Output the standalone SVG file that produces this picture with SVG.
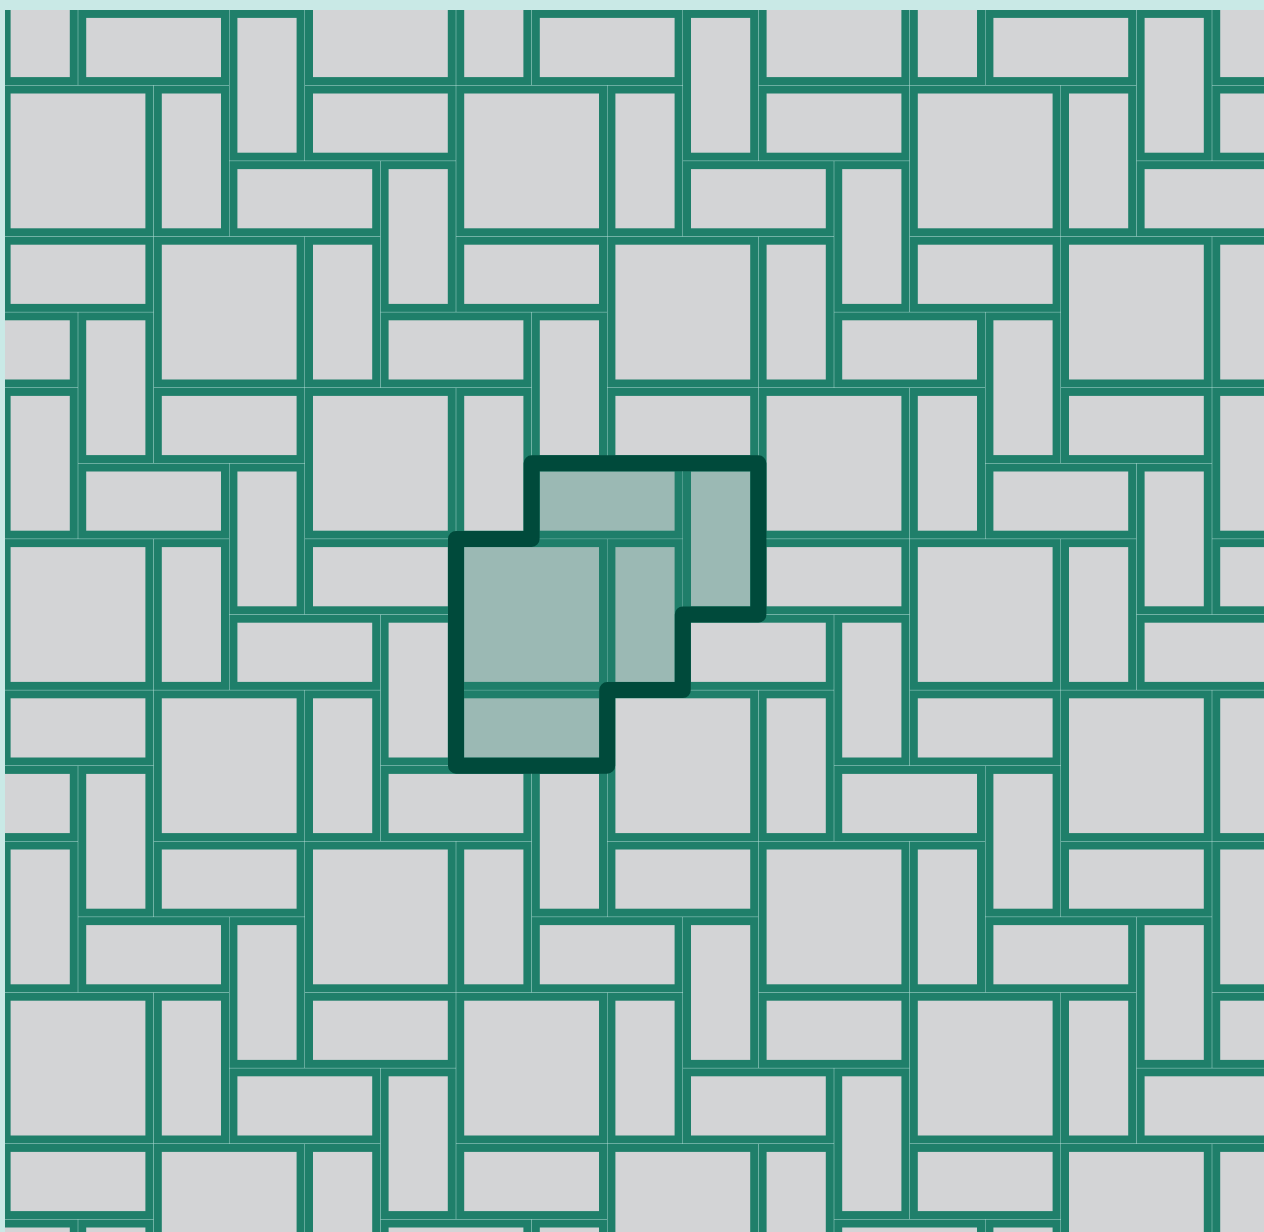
<svg xmlns="http://www.w3.org/2000/svg" xmlns:xlink="http://www.w3.org/1999/xlink" width="1264" height="1232" viewBox="0 0 1264 1232">
  <style>
    .tile { fill: #d3d4d6; stroke: #1f7f6a; stroke-width: 8; }
    .domain { fill: #1f7f6a; fill-opacity: 0.31; stroke: #004a3b; stroke-width: 16; stroke-linejoin: round; }
  </style>
  <defs>
    <clipPath id="area">
      <rect x="5" y="10" width="1259" height="1222"/>
    </clipPath>
    <g id="cell">
      <rect class="tile" x="4.2" y="79.8" width="142.8" height="142.8"/>
      <rect class="tile" x="155.4" y="79.8" width="67.2" height="142.8"/>
      <rect class="tile" x="231" y="4.2" width="67.2" height="142.8"/>
      <rect class="tile" x="79.8" y="4.2" width="142.8" height="67.2"/>
      <rect class="tile" x="306.6" y="79.8" width="142.8" height="67.2"/>
    </g>
  </defs>
  <rect x="0" y="0" width="1264" height="1232" fill="#c9e9e6"/>
  <g id="tiling" clip-path="url(#area)">
    <use xlink:href="#cell" transform="translate(-148.8,-141.5)"/>
    <use xlink:href="#cell" transform="translate(304.8,-141.5)"/>
    <use xlink:href="#cell" transform="translate(758.4,-141.5)"/>
    <use xlink:href="#cell" transform="translate(1212,-141.5)"/>

    <use xlink:href="#cell" transform="translate(2.4,9.7)"/>
    <use xlink:href="#cell" transform="translate(456,9.7)"/>
    <use xlink:href="#cell" transform="translate(909.6,9.7)"/>

    <use xlink:href="#cell" transform="translate(-300,160.9)"/>
    <use xlink:href="#cell" transform="translate(153.6,160.9)"/>
    <use xlink:href="#cell" transform="translate(607.2,160.9)"/>
    <use xlink:href="#cell" transform="translate(1060.8,160.9)"/>

    <use xlink:href="#cell" transform="translate(-148.8,312.1)"/>
    <use xlink:href="#cell" transform="translate(304.8,312.1)"/>
    <use xlink:href="#cell" transform="translate(758.4,312.1)"/>
    <use xlink:href="#cell" transform="translate(1212,312.1)"/>

    <use xlink:href="#cell" transform="translate(2.4,463.3)"/>
    <use xlink:href="#cell" transform="translate(456,463.3)"/>
    <use xlink:href="#cell" transform="translate(909.6,463.3)"/>

    <use xlink:href="#cell" transform="translate(-300,614.5)"/>
    <use xlink:href="#cell" transform="translate(153.6,614.5)"/>
    <use xlink:href="#cell" transform="translate(607.2,614.5)"/>
    <use xlink:href="#cell" transform="translate(1060.8,614.5)"/>

    <use xlink:href="#cell" transform="translate(-148.8,765.7)"/>
    <use xlink:href="#cell" transform="translate(304.8,765.7)"/>
    <use xlink:href="#cell" transform="translate(758.4,765.7)"/>
    <use xlink:href="#cell" transform="translate(1212,765.7)"/>

    <use xlink:href="#cell" transform="translate(2.4,916.9)"/>
    <use xlink:href="#cell" transform="translate(456,916.9)"/>
    <use xlink:href="#cell" transform="translate(909.6,916.9)"/>

    <use xlink:href="#cell" transform="translate(-300,1068.1)"/>
    <use xlink:href="#cell" transform="translate(153.6,1068.1)"/>
    <use xlink:href="#cell" transform="translate(607.2,1068.1)"/>
    <use xlink:href="#cell" transform="translate(1060.8,1068.1)"/>

    <use xlink:href="#cell" transform="translate(-148.8,1219.3)"/>
    <use xlink:href="#cell" transform="translate(304.8,1219.3)"/>
    <use xlink:href="#cell" transform="translate(758.4,1219.3)"/>
    <use xlink:href="#cell" transform="translate(1212,1219.3)"/>
  </g>
  <g id="fundamental-domain">
    <polygon class="domain" points="531.6,463.3 758.4,463.3 758.4,614.5 682.8,614.5 682.8,690.1 607.2,690.1 607.2,765.7 456,765.7 456,538.9 531.6,538.9"/>
  </g>
</svg>
